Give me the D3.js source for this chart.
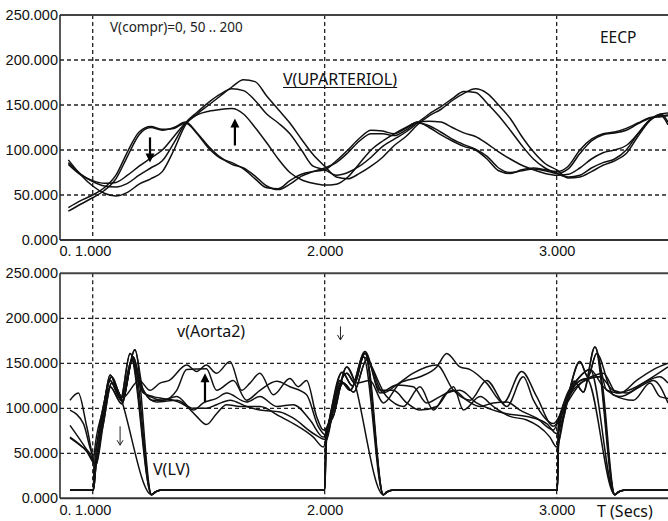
<!DOCTYPE html>
<html>
<head>
<meta charset="utf-8">
<script src="https://cdn.jsdelivr.net/npm/d3@7"></script>
<style>
  body { margin: 0; background: #fff; }
  svg { display: block; }
</style>
</head>
<body>
<div id="chart"></div>
<script>
// axis ticks
var yTicks = [0, 50, 100, 150, 200, 250];
var yGrid = [50, 100, 150, 200];
var xGrid = [1, 2, 3];
var xTickValues = [0.859, 1, 2, 3];
var xTickLabels = ["0.", "1.000", "2.000", "3.000"];

// V(UPARTERIOL), one curve per V(compr) = 0, 50, 100, 150, 200   [time, value]
var up0 = [[0.895,36],[0.95,44],[1.0,50],[1.05,58],[1.1,72],[1.15,98],[1.2,120],[1.25,126],[1.3,123],[1.35,124],[1.4,130],[1.45,118],[1.5,102],[1.55,91],[1.6,86],[1.65,79],[1.7,68],[1.75,58],[1.8,57],[1.85,66],[1.9,73],[1.95,76],[2.0,78],[2.05,88],[2.1,100],[2.15,113],[2.2,122],[2.25,121],[2.3,118],[2.35,124],[2.4,131],[2.45,125],[2.5,117],[2.55,110],[2.6,104],[2.65,100],[2.7,90],[2.75,77],[2.8,74],[2.85,78],[2.9,80],[2.95,78],[3.0,76],[3.05,82],[3.1,100],[3.15,112],[3.2,118],[3.25,120],[3.3,124],[3.35,130],[3.4,136],[3.45,138],[3.48,139]];
var up50 = [[0.895,32],[0.95,40],[1.0,47],[1.05,55],[1.1,68],[1.15,93],[1.2,117],[1.25,125],[1.3,122],[1.35,125],[1.4,131],[1.45,119],[1.5,104],[1.55,92],[1.6,84],[1.65,80],[1.7,71],[1.75,60],[1.8,56],[1.85,62],[1.9,71],[1.95,76],[2.0,80],[2.05,86],[2.1,97],[2.15,110],[2.2,118],[2.25,118],[2.3,116],[2.35,122],[2.4,130],[2.45,127],[2.5,120],[2.55,112],[2.6,106],[2.65,101],[2.7,93],[2.75,80],[2.8,75],[2.85,77],[2.9,79],[2.95,77],[3.0,74],[3.05,79],[3.1,96],[3.15,110],[3.2,117],[3.25,119],[3.3,122],[3.35,129],[3.4,135],[3.45,137],[3.48,138]];
var up100 = [[0.895,84],[0.95,72],[1.0,66],[1.05,63],[1.1,64],[1.15,72],[1.2,82],[1.25,91],[1.3,100],[1.35,115],[1.4,130],[1.45,139],[1.5,143],[1.55,145],[1.6,146],[1.65,140],[1.7,125],[1.75,108],[1.8,90],[1.85,75],[1.9,67],[1.95,63],[2.0,61],[2.05,62],[2.1,70],[2.15,85],[2.2,100],[2.25,110],[2.3,118],[2.35,125],[2.4,131],[2.45,132],[2.5,131],[2.55,125],[2.6,119],[2.65,115],[2.7,107],[2.75,98],[2.8,90],[2.85,83],[2.9,78],[2.95,74],[3.0,72],[3.05,73],[3.1,80],[3.15,90],[3.2,97],[3.25,100],[3.3,105],[3.35,118],[3.4,133],[3.45,140],[3.48,141]];
var up150 = [[0.895,86],[0.95,73],[1.0,65],[1.05,60],[1.1,59],[1.15,63],[1.2,72],[1.25,80],[1.3,88],[1.35,108],[1.4,130],[1.45,142],[1.5,153],[1.55,162],[1.6,168],[1.65,166],[1.7,155],[1.75,140],[1.8,130],[1.85,118],[1.9,100],[1.95,82],[2.0,78],[2.05,72],[2.1,75],[2.15,82],[2.2,92],[2.25,104],[2.3,112],[2.35,120],[2.4,130],[2.45,140],[2.5,148],[2.55,157],[2.6,165],[2.65,164],[2.7,152],[2.75,138],[2.8,122],[2.85,105],[2.9,90],[2.95,80],[3.0,74],[3.05,70],[3.1,72],[3.15,80],[3.2,86],[3.25,90],[3.3,100],[3.35,118],[3.4,133],[3.45,138],[3.48,128]];
var up200 = [[0.895,89],[0.95,72],[1.0,60],[1.05,52],[1.1,49],[1.15,53],[1.2,62],[1.25,68],[1.3,76],[1.35,100],[1.4,128],[1.45,140],[1.5,150],[1.55,160],[1.6,170],[1.65,178],[1.7,176],[1.75,160],[1.8,145],[1.85,130],[1.9,112],[1.95,95],[2.0,82],[2.05,70],[2.1,68],[2.15,74],[2.2,82],[2.25,92],[2.3,105],[2.35,115],[2.4,128],[2.45,138],[2.5,145],[2.55,155],[2.6,163],[2.65,168],[2.7,163],[2.75,150],[2.8,135],[2.85,115],[2.9,98],[2.95,85],[3.0,78],[3.05,69],[3.1,70],[3.15,76],[3.2,83],[3.25,88],[3.3,96],[3.35,115],[3.4,132],[3.45,140],[3.48,131]];

// v(Aorta2)   [time, value]
var aorta0 = [[0.902,67],[0.95,58],[0.988,50],[1.014,37],[1.045,90],[1.075,124],[1.125,105],[1.175,157],[1.218,117],[1.261,113],[1.3,111],[1.348,109],[1.405,102],[1.448,91],[1.49,82],[1.534,94],[1.577,104],[1.635,102],[1.721,102],[1.807,91],[1.865,83],[1.951,68],[1.994,57],[2.03,100],[2.075,140],[2.12,125],[2.174,161],[2.239,120],[2.296,120],[2.354,106],[2.411,98],[2.483,102],[2.555,124],[2.598,98],[2.67,113],[2.727,102],[2.799,91],[2.871,87],[2.971,68],[3.0,57],[3.035,95],[3.075,130],[3.115,118],[3.165,168],[3.216,120],[3.273,117],[3.345,131],[3.417,143],[3.48,150]];
var aorta50 = [[0.902,68],[0.974,52],[1.014,37],[1.045,95],[1.075,137],[1.125,108],[1.182,165],[1.218,120],[1.276,107],[1.362,109],[1.434,100],[1.49,100],[1.534,104],[1.592,109],[1.663,102],[1.721,98],[1.807,96],[1.865,89],[1.951,72],[2.008,65],[2.04,105],[2.095,139],[2.13,128],[2.167,157],[2.267,113],[2.339,102],[2.411,124],[2.469,98],[2.526,117],[2.583,120],[2.655,106],[2.727,98],[2.785,94],[2.871,91],[2.957,83],[3.0,72],[3.05,115],[3.1,152],[3.135,135],[3.172,161],[3.244,115],[3.331,109],[3.403,128],[3.445,113],[3.48,111]];
var aorta100 = [[0.902,81],[0.974,54],[1.01,39],[1.04,88],[1.075,131],[1.12,110],[1.161,161],[1.211,124],[1.254,109],[1.3,109],[1.362,113],[1.434,98],[1.477,106],[1.534,111],[1.577,117],[1.663,107],[1.721,113],[1.793,102],[1.865,104],[1.937,87],[1.994,68],[2.03,95],[2.066,131],[2.11,120],[2.174,163],[2.239,117],[2.31,126],[2.382,124],[2.44,106],[2.497,113],[2.555,120],[2.612,109],[2.67,102],[2.727,106],[2.785,107],[2.842,98],[2.914,89],[2.986,76],[3.03,105],[3.093,133],[3.144,143],[3.201,124],[3.273,113],[3.359,124],[3.417,131],[3.48,106]];
var aorta150 = [[0.902,98],[0.96,83],[1.003,48],[1.04,95],[1.082,135],[1.125,112],[1.168,154],[1.211,120],[1.247,113],[1.304,109],[1.362,120],[1.405,143],[1.49,144],[1.534,120],[1.606,131],[1.663,109],[1.721,120],[1.793,130],[1.85,124],[1.922,115],[1.972,80],[2.008,70],[2.04,100],[2.08,128],[2.125,118],[2.181,154],[2.253,117],[2.31,126],[2.382,139],[2.483,148],[2.555,120],[2.627,109],[2.698,131],[2.785,102],[2.856,135],[2.9,109],[2.986,83],[3.03,100],[3.115,130],[3.187,135],[3.244,120],[3.302,117],[3.374,128],[3.445,135],[3.48,128]];
var aorta200 = [[0.902,109],[0.938,117],[0.974,80],[1.014,37],[1.046,83],[1.082,128],[1.13,112],[1.2,131],[1.247,120],[1.29,128],[1.33,131],[1.405,148],[1.448,141],[1.49,148],[1.534,139],[1.592,152],[1.642,120],[1.678,128],[1.721,139],[1.779,115],[1.85,133],[1.886,124],[1.922,131],[1.965,91],[1.994,76],[2.037,91],[2.095,146],[2.138,128],[2.195,131],[2.253,106],[2.325,128],[2.411,135],[2.483,146],[2.526,161],[2.583,146],[2.627,143],[2.698,128],[2.77,106],[2.849,141],[2.914,113],[2.986,80],[3.029,98],[3.086,128],[3.129,133],[3.201,139],[3.259,117],[3.31,120],[3.403,133],[3.48,146]];

// V(LV)   [time, value]
var lv0 = [[0.902,9],[1.003,9],[1.014,37],[1.045,90],[1.075,124],[1.125,105],[1.175,157],[1.254,4],[1.27,7],[1.29,9],[2.0,9],[2.005,57],[2.03,100],[2.075,140],[2.12,125],[2.174,161],[2.253,4],[2.268,7],[2.29,9],[3.003,9],[3.008,57],[3.035,95],[3.075,130],[3.115,118],[3.165,168],[3.251,4],[3.266,7],[3.29,9],[3.48,9]];
var lv50 = [[0.902,9],[1.003,9],[1.014,37],[1.045,95],[1.075,137],[1.125,108],[1.182,165],[1.254,4],[1.27,7],[1.29,9],[2.0,9],[2.008,65],[2.04,105],[2.095,139],[2.13,128],[2.167,157],[2.253,4],[2.268,7],[2.29,9],[3.003,9],[3.008,72],[3.05,115],[3.1,152],[3.135,135],[3.172,161],[3.251,4],[3.266,7],[3.29,9],[3.48,9]];
var lv100 = [[0.902,9],[1.003,9],[1.01,39],[1.04,88],[1.075,131],[1.12,110],[1.161,161],[1.254,4],[1.27,7],[1.29,9],[2.0,9],[2.005,68],[2.03,95],[2.066,131],[2.11,120],[2.174,163],[2.253,4],[2.268,7],[2.29,9],[3.003,9],[3.008,76],[3.03,105],[3.093,133],[3.144,143],[3.251,4],[3.266,7],[3.29,9],[3.48,9]];
var lv150 = [[0.902,9],[1.003,9],[1.006,48],[1.04,95],[1.082,135],[1.125,112],[1.168,154],[1.254,4],[1.27,7],[1.29,9],[2.0,9],[2.008,70],[2.04,100],[2.08,128],[2.125,118],[2.181,154],[2.253,4],[2.268,7],[2.29,9],[3.003,9],[3.008,83],[3.03,100],[3.115,130],[3.187,135],[3.251,4],[3.266,7],[3.29,9],[3.48,9]];
var lv200 = [[0.902,9],[1.003,9],[1.014,37],[1.046,83],[1.082,128],[1.254,4],[1.27,7],[1.29,9],[2.0,9],[2.005,76],[2.037,91],[2.095,146],[2.253,4],[2.268,7],[2.29,9],[3.003,9],[3.008,80],[3.029,98],[3.086,128],[3.129,133],[3.251,4],[3.266,7],[3.29,9],[3.48,9]];

// arrows drawn on the plots: [time, from value, to value]
var topArrows = [[1.247, 114, 86], [1.613, 105, 135]];
var bottomArrows = [[1.484, 107, 139]];
var bottomThinArrows = [[1.118, 80, 59], [2.068, 191, 176]];

var W = 668, H = 521;
var svg = d3.select("#chart").append("svg").attr("width", W).attr("height", H);

var x = d3.scaleLinear().domain([0.859, 3.48]).range([60, 668]);

var line = function(y) {
  return d3.line()
    .x(function(d) { return x(d[0]); })
    .y(function(d) { return y(d[1]); })
    .curve(d3.curveMonotoneX);
};

function drawPanel(top, bottom, series) {
  var y = d3.scaleLinear().domain([0, 250]).range([bottom, top]);
  var g = svg.append("g");

  // grid
  g.selectAll(".gy").data(yGrid).enter().append("line")
    .attr("x1", 60).attr("x2", W)
    .attr("y1", function(d) { return y(d); }).attr("y2", function(d) { return y(d); })
    .style("stroke", "#222").style("stroke-width", 1.3).style("stroke-dasharray", "4,3");
  g.selectAll(".gx").data(xGrid).enter().append("line")
    .attr("x1", function(d) { return x(d); }).attr("x2", function(d) { return x(d); })
    .attr("y1", top).attr("y2", bottom)
    .style("stroke", "#222").style("stroke-width", 1.3).style("stroke-dasharray", "4,3");

  // curves
  g.selectAll(".curve").data(series).enter().append("path")
    .attr("d", line(y))
    .style("fill", "none").style("stroke", "#111").style("stroke-width", 1.5)
    .style("stroke-linejoin", "round");

  // frame
  g.append("line").attr("x1", 60).attr("x2", W).attr("y1", top).attr("y2", top)
    .style("stroke", "#444").style("stroke-width", 2);
  g.append("line").attr("x1", 60).attr("x2", W).attr("y1", bottom).attr("y2", bottom)
    .style("stroke", "#333").style("stroke-width", 2);
  g.append("line").attr("x1", 60).attr("x2", 60).attr("y1", top).attr("y2", bottom)
    .style("stroke", "#222").style("stroke-width", 1.5);

  // axes
  var yAxis = d3.axisLeft(y).tickValues(yTicks).tickFormat(d3.format(".3f"))
    .tickSize(0).tickPadding(2);
  var ya = g.append("g").attr("transform", "translate(60,0)").call(yAxis);
  ya.select(".domain").remove();
  ya.selectAll("text").style("font-family", "Liberation Sans, Arial, sans-serif")
    .style("font-size", "14.5px").style("fill", "#111");

  var xAxis = d3.axisBottom(x).tickValues(xTickValues)
    .tickFormat(function(d, i) { return xTickLabels[i]; })
    .tickSize(0).tickPadding(6);
  var xa = g.append("g").attr("transform", "translate(0," + bottom + ")").call(xAxis);
  xa.select(".domain").remove();
  xa.selectAll("text").style("font-family", "Liberation Sans, Arial, sans-serif")
    .style("font-size", "14.5px").style("fill", "#111");
  xa.selectAll("text").filter(function(d, i) { return i === 0; })
    .attr("text-anchor", "start").attr("x", -1);

  return { g: g, y: y };
}

function arrow(g, y, a, thick) {
  var xp = x(a[0]), y0 = y(a[1]), y1 = y(a[2]);
  var dir = y1 > y0 ? 1 : -1;
  if (thick) {
    g.append("line").attr("x1", xp).attr("x2", xp).attr("y1", y0).attr("y2", y1 - dir * 6)
      .style("stroke", "#000").style("stroke-width", 2.2);
    g.append("path")
      .attr("d", "M" + (xp - 4.5) + "," + (y1 - dir * 9) + "L" + xp + "," + y1 + "L" + (xp + 4.5) + "," + (y1 - dir * 9) + "Z")
      .style("fill", "#000");
  } else {
    g.append("line").attr("x1", xp).attr("x2", xp).attr("y1", y0).attr("y2", y1)
      .style("stroke", "#222").style("stroke-width", 1);
    g.append("path")
      .attr("d", "M" + (xp - 3) + "," + (y1 - dir * 5) + "L" + xp + "," + y1 + "L" + (xp + 3) + "," + (y1 - dir * 5))
      .style("fill", "none").style("stroke", "#222").style("stroke-width", 1);
  }
}

var topPanel = drawPanel(15, 240, [up0, up50, up100, up150, up200]);
var botPanel = drawPanel(273.3, 498.3, [lv0, lv50, lv100, lv150, lv200, aorta0, aorta50, aorta100, aorta150, aorta200]);

topArrows.forEach(function(a) { arrow(topPanel.g, topPanel.y, a, true); });
bottomArrows.forEach(function(a) { arrow(botPanel.g, botPanel.y, a, true); });
bottomThinArrows.forEach(function(a) { arrow(botPanel.g, botPanel.y, a, false); });

// labels
var lab = "'Noto Sans', 'DejaVu Sans', sans-serif";
svg.append("text").attr("x", 110).attr("y", 32).text("V(compr)=0, 50 .. 200")
  .style("font-family", lab).style("font-size", "13.5px").style("fill", "#222");
svg.append("text").attr("x", 600).attr("y", 42.5).text("EECP")
  .style("font-family", lab).style("font-size", "15.5px").style("fill", "#111");
var upl = svg.append("text").attr("x", 283).attr("y", 85).text("V(UPARTERIOL)")
  .style("font-family", lab).style("font-size", "16px").style("fill", "#111");
var bb = upl.node().getBBox();
svg.append("line").attr("x1", bb.x).attr("x2", bb.x + bb.width).attr("y1", 87.5).attr("y2", 87.5)
  .style("stroke", "#111").style("stroke-width", 1.2);
svg.append("text").attr("x", 177).attr("y", 337).text("v(Aorta2)")
  .style("font-family", lab).style("font-size", "16px").style("fill", "#111");
svg.append("text").attr("x", 153).attr("y", 475).text("V(LV)")
  .style("font-family", lab).style("font-size", "16px").style("fill", "#111");
svg.append("text").attr("x", 597).attr("y", 517).text("T (Secs)")
  .style("font-family", lab).style("font-size", "16px").style("fill", "#111");
</script>
</body>
</html>
